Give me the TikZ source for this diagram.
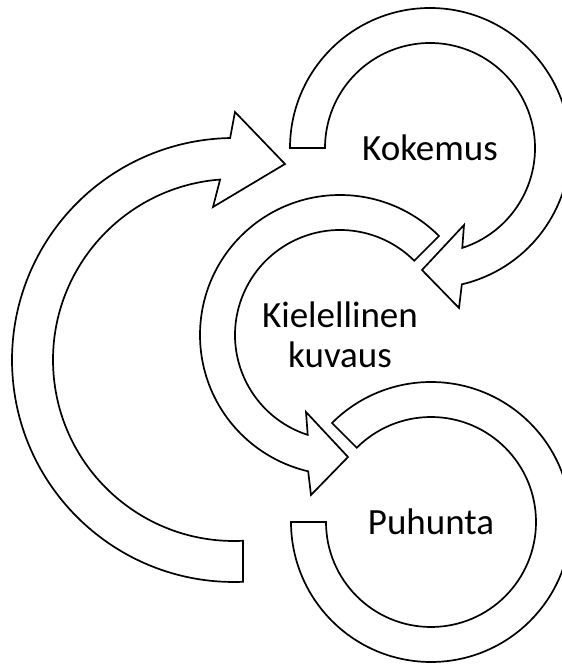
\documentclass[tikz,border=0pt]{standalone}
\usepackage{fontspec}
\setmainfont{Carlito}
\begin{document}
\begin{tikzpicture}[x=1pt,y=1pt,
  band/.style={draw=black, fill=white, line width=1.7pt, line join=miter},
  txt/.style={font=\fontsize{37}{40}\selectfont, align=center, inner sep=0pt}]
\useasboundingbox (0,0) rectangle (562,664);
\clip (0,0) rectangle (562,664);
\fill[white] (0,0) rectangle (562,664);

% centres of the four circular arrows
\coordinate (c1) at (430,516);
\coordinate (c2) at (340,329);
\coordinate (c3) at (431,142);
\coordinate (c4) at (234,304);

% Kokemus: clockwise arrow, tail on the left
\draw[band, shift={(c1)}]
  (180:140) arc[start angle=180, end angle=-76.85, radius=140]
  -- (29,-160) -- (-8,-122) -- (34,-77)
  -- (-72.1:105) arc[start angle=-72.1, end angle=180, radius=105] -- cycle;

% Kielellinen kuvaus: counter-clockwise arrow, tail at upper right
\draw[band, shift={(c2)}]
  (45:140) arc[start angle=45, end angle=256.85, radius=140]
  -- (-29,-160) -- (8,-122) -- (-34,-77)
  -- (252.1:105) arc[start angle=252.1, end angle=45, radius=105] -- cycle;

% Puhunta: open ring without a head
\draw[band, shift={(c3)}]
  (135:140) arc[start angle=135, end angle=-180, radius=140]
  -- (-180:105) arc[start angle=-180, end angle=135, radius=105] -- cycle;

% large return arrow on the left
\draw[band, shift={(c4)}]
  (272.32:222) arc[start angle=272.32, end angle=91.0, radius=222]
  -- (1,248) -- (51,196) -- (-21,153)
  -- (94.4:181) arc[start angle=94.4, end angle=272.85, radius=181] -- cycle;

\node[txt] (kokemus) at (c1) {Kokemus};
\node[txt] (kuvaus) at (c2) {Kielellinen\\kuvaus};
\node[txt] (puhunta) at (c3) {Puhunta};
\end{tikzpicture}
\end{document}
